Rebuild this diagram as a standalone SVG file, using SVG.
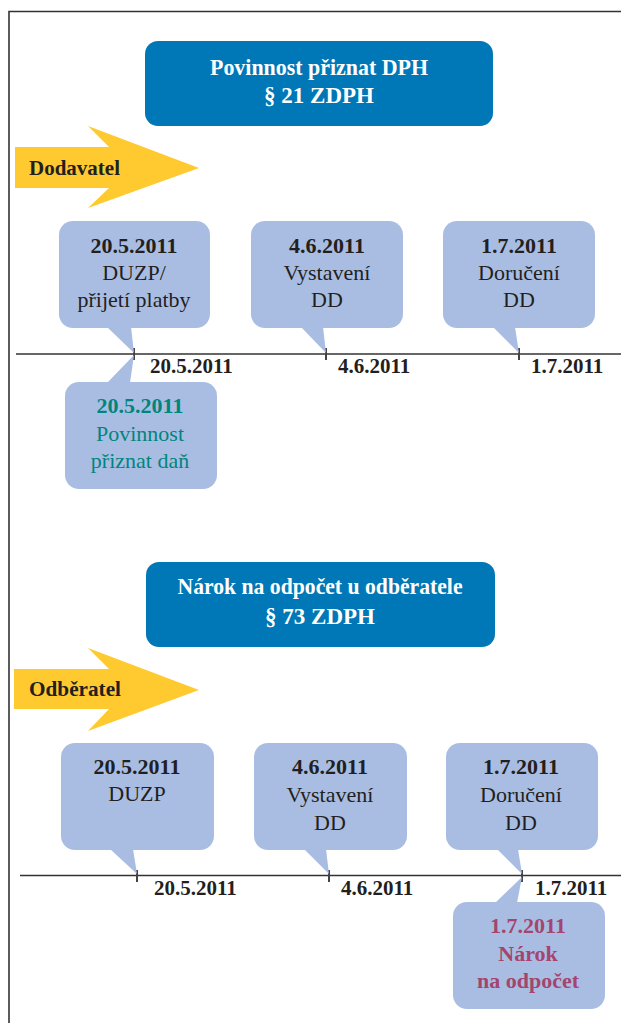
<svg xmlns="http://www.w3.org/2000/svg" width="621" height="1023" viewBox="0 0 621 1023">
<style>
.frame{fill:none;stroke:#333;stroke-width:1.6}
.title{fill:#0077b6}
.tt{font-family:'Liberation Serif','Times New Roman',serif;font-weight:bold;font-size:23px;fill:#fff;text-anchor:middle}
.arrow{fill:#ffca2f}
.al{font-family:'Liberation Serif','Times New Roman',serif;font-weight:bold;font-size:21px;fill:#231f20}
.call{fill:#a9bde3}
.b{font-family:'Liberation Serif','Times New Roman',serif;font-weight:bold;font-size:22px;fill:#231f20;text-anchor:middle}
.r{font-family:'Liberation Serif','Times New Roman',serif;font-size:22px;fill:#231f20;text-anchor:middle}
.teal{fill:#00857d}
.mag{fill:#a3456f}
.axis{stroke:#333;stroke-width:1.5;fill:none}
.tick{stroke:#444;stroke-width:2}
.dl{font-family:'Liberation Serif','Times New Roman',serif;font-weight:bold;font-size:21px;fill:#231f20}
</style>
<rect width="621" height="1023" fill="#fff"/>
<path class="frame" d="M9 1023 V11.5 H621"/>

<g id="title1">
<rect class="title" x="145" y="41" width="348" height="85" rx="13"/>
<text class="tt" x="319" y="75" textLength="218" lengthAdjust="spacingAndGlyphs">Povinnost přiznat DPH</text>
<text class="tt" x="319" y="103">§ 21 ZDPH</text>
</g>

<g id="arrow1">
<polygon class="arrow" points="15,147 109,147 88,126 199,168 88,208 109,188 15,188"/>
<text class="al" x="29" y="175" textLength="91" lengthAdjust="spacingAndGlyphs">Dodavatel</text>
</g>

<g id="connectors">
<path class="axis" d="M16 354 H621"/>
<path class="tick" d="M134 348 V360 M326 348 V360 M519 348 V360"/>
<path class="axis" d="M20 875.5 H621"/>
<path class="tick" d="M137 870 V882 M329 870 V882 M522 870 V882"/>
</g>

<g id="axis1-labels">
<text class="dl" x="150" y="373">20.5.2011</text>
<text class="dl" x="338" y="373">4.6.2011</text>
<text class="dl" x="531" y="373">1.7.2011</text>
</g>

<g id="c1">
<rect class="call" x="59" y="221" width="151" height="107" rx="14"/>
<polygon class="call" points="107,327 131,327 134,353"/>
<text class="b" x="134" y="253">20.5.2011</text>
<text class="r" x="134" y="280">DUZP/</text>
<text class="r" x="134" y="307">přijetí platby</text>
</g>

<g id="c2">
<rect class="call" x="251" y="221" width="152" height="107" rx="14"/>
<polygon class="call" points="301,327 323,327 326,353"/>
<text class="b" x="327" y="253">4.6.2011</text>
<text class="r" x="327" y="280">Vystavení</text>
<text class="r" x="327" y="307">DD</text>
</g>

<g id="c3">
<rect class="call" x="443" y="221" width="152" height="107" rx="14"/>
<polygon class="call" points="493,327 515,327 519,353"/>
<text class="b" x="519" y="253">1.7.2011</text>
<text class="r" x="519" y="280">Doručení</text>
<text class="r" x="519" y="307">DD</text>
</g>

<g id="c4">
<rect class="call" x="65" y="382" width="152" height="107" rx="14"/>
<polygon class="call" points="107,383 130,383 134,355"/>
<text class="b teal" x="140" y="413">20.5.2011</text>
<text class="r teal" x="140" y="441">Povinnost</text>
<text class="r teal" x="140" y="468">přiznat daň</text>
</g>

<g id="title2">
<rect class="title" x="146" y="562" width="349" height="85" rx="13"/>
<text class="tt" x="320" y="594" textLength="285" lengthAdjust="spacingAndGlyphs">Nárok na odpočet u odběratele</text>
<text class="tt" x="320" y="624">§ 73 ZDPH</text>
</g>

<g id="arrow2">
<polygon class="arrow" points="14,669 109,669 88,648 199,690 88,731 109,709 14,709"/>
<text class="al" x="29" y="696" textLength="92" lengthAdjust="spacingAndGlyphs">Odběratel</text>
</g>

<g id="axis2-labels">
<text class="dl" x="154" y="895">20.5.2011</text>
<text class="dl" x="341" y="895">4.6.2011</text>
<text class="dl" x="535" y="895">1.7.2011</text>
</g>

<g id="d1">
<rect class="call" x="61" y="743" width="153" height="107" rx="14"/>
<polygon class="call" points="110,849 133,849 137,874"/>
<text class="b" x="137" y="774">20.5.2011</text>
<text class="r" x="137" y="801">DUZP</text>
</g>

<g id="d2">
<rect class="call" x="254" y="743" width="153" height="107" rx="14"/>
<polygon class="call" points="304,849 326,849 329,874"/>
<text class="b" x="330" y="774">4.6.2011</text>
<text class="r" x="330" y="802">Vystavení</text>
<text class="r" x="330" y="830">DD</text>
</g>

<g id="d3">
<rect class="call" x="446" y="743" width="152" height="107" rx="14"/>
<polygon class="call" points="497,849 518,849 522,874"/>
<text class="b" x="521" y="774">1.7.2011</text>
<text class="r" x="521" y="802">Doručení</text>
<text class="r" x="521" y="830">DD</text>
</g>

<g id="d4">
<rect class="call" x="453" y="902" width="152" height="107" rx="14"/>
<polygon class="call" points="495,903 517,903 522,877"/>
<text class="b mag" x="528" y="933">1.7.2011</text>
<text class="b mag" x="528" y="961">Nárok</text>
<text class="b mag" x="528" y="988">na odpočet</text>
</g>
</svg>
